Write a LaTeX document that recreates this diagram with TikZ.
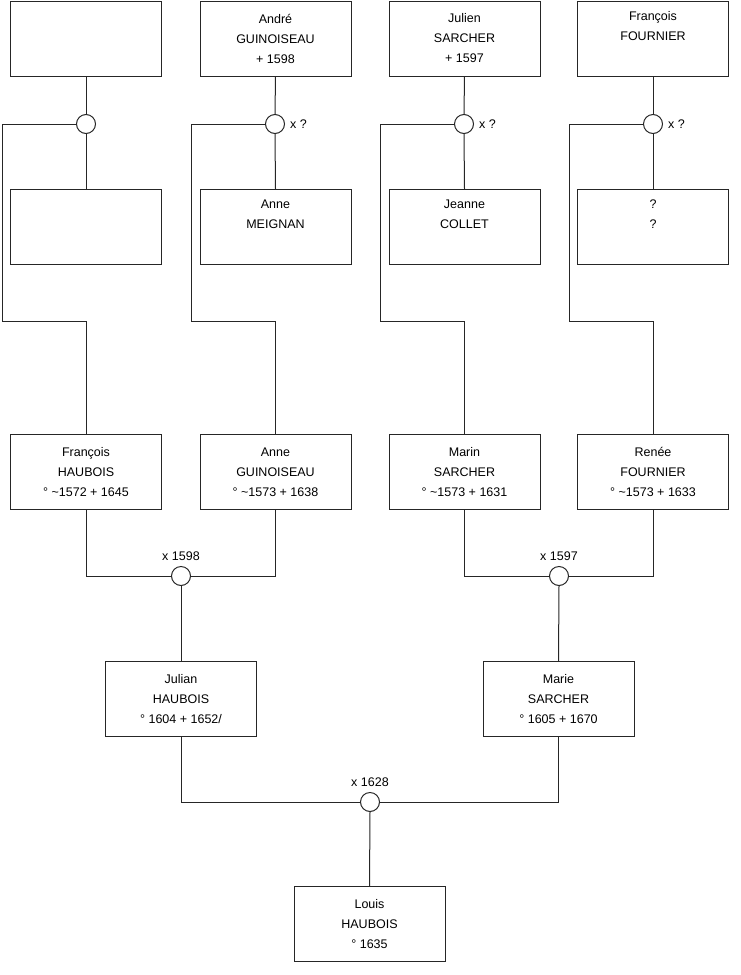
\documentclass[tikz,border=0pt]{standalone}
\usepackage{fontspec}
\setmainfont{Liberation Sans}
\begin{document}
\begin{tikzpicture}[x=1pt,y=-1pt,
  person/.style={draw=black!85,line width=1pt,fill=white,minimum width=151pt,minimum height=75pt,
    align=center,inner sep=0pt,font=\fontsize{12.5}{20}\selectfont},
  union/.style={circle,draw=black!85,line width=1pt,fill=white,minimum size=19pt,inner sep=0pt},
  link/.style={draw=black!85,line width=1pt},
  lbl/.style={font=\fontsize{12.5}{14}\selectfont,inner sep=0pt}]
\useasboundingbox (0,0) rectangle (740,975);
% top row
\node[person] (g1) at (86,38.5) {};
\node[person] (g2) at (275.5,38.5) {André\\GUINOISEAU\\+ 1598};
\node[person] (g3) at (464.5,38.5) {Julien\\SARCHER\\+ 1597};
\node[person] (g4) at (653,38.5) {François\\FOURNIER\\\strut};
% second row
\node[person] (w1) at (86,227) {};
\node[person] (w2) at (275.5,227) {Anne\\MEIGNAN\\\strut};
\node[person] (w3) at (464.5,227) {Jeanne\\COLLET\\\strut};
\node[person] (w4) at (653,227) {?\\?\\\strut};
% top unions
\node[union] (u1) at (86,124) {};
\node[union] (u2) at (275,124) {};
\node[union] (u3) at (464,124) {};
\node[union] (u4) at (653,124) {};
\node[lbl,anchor=west] (x2) at ([xshift=5pt]u2.east) {x ?};
\node[lbl,anchor=west] (x3) at ([xshift=5pt]u3.east) {x ?};
\node[lbl,anchor=west] (x4) at ([xshift=5pt]u4.east) {x ?};
% third row
\node[person] (p1) at (86,472) {François\\HAUBOIS\\° \textasciitilde1572 + 1645};
\node[person] (p2) at (275.5,472) {Anne\\GUINOISEAU\\° \textasciitilde1573 + 1638};
\node[person] (p3) at (464.5,472) {Marin\\SARCHER\\° \textasciitilde1573 + 1631};
\node[person] (p4) at (653,472) {Renée\\FOURNIER\\° \textasciitilde1573 + 1633};
% bend points
\coordinate (k1) at (2,321);
\coordinate (k2) at (191,321);
\coordinate (k3) at (380,321);
\coordinate (k4) at (569,321);
% marriages
\node[union] (m1) at (181,576) {};
\node[union] (m2) at (559,576) {};
\node[lbl,anchor=south] (y1) at ([yshift=5pt]m1.north) {x 1598};
\node[lbl,anchor=south] (y2) at ([yshift=5pt]m2.north) {x 1597};
% fourth row
\node[person] (j1) at (181,699) {Julian\\HAUBOIS\\° 1604 + 1652/};
\node[person] (j2) at (558.5,699) {Marie\\SARCHER\\° 1605 + 1670};
\node[union] (m3) at (370,802) {};
\node[lbl,anchor=south] (y3) at ([yshift=5pt]m3.north) {x 1628};
\node[person] (l) at (369.5,924) {Louis\\HAUBOIS\\° 1635};
% connectors top
\foreach \i in {1,2,3,4}{
  \draw[link] (g\i.south) -- (u\i.north);
  \draw[link] (u\i.south) -- (w\i.north);
  \draw[link] (u\i.west) -| (k\i) -| (p\i.north);
}
\draw[link] (p1.south) |- (m1.west);
\draw[link] (p2.south) |- (m1.east);
\draw[link] (p3.south) |- (m2.west);
\draw[link] (p4.south) |- (m2.east);
\draw[link] (m1.south) -- (j1.north);
\draw[link] (m2.south) -- (j2.north);
\draw[link] (j1.south) |- (m3.west);
\draw[link] (j2.south) |- (m3.east);
\draw[link] (m3.south) -- (l.north);
\end{tikzpicture}
\end{document}
